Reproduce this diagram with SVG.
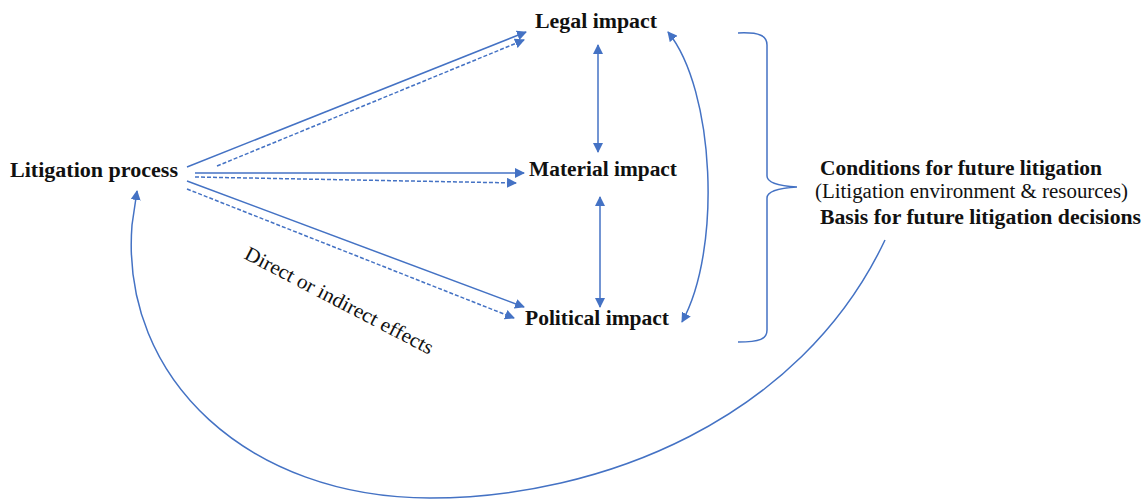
<svg xmlns="http://www.w3.org/2000/svg" width="1148" height="500" viewBox="0 0 1148 500">
<style>
.lbl{font-family:"Liberation Serif","Times New Roman",serif;font-size:20.5px;fill:#111;}
.b{font-weight:bold;}
.ln{stroke:#4472C4;stroke-width:1.5;fill:none;}
.d{stroke-dasharray:4 2;}
</style>
<defs>
<marker id="ah" viewBox="0 0 10 10" refX="9" refY="5" markerWidth="10" markerHeight="10" markerUnits="userSpaceOnUse" orient="auto-start-reverse">
<path d="M0,0 L10,5 L0,10 z" fill="#4472C4"/>
</marker>
</defs>
<rect width="1148" height="500" fill="#fff"/>
<g id="connectors">
<line class="ln" x1="187" y1="167" x2="526" y2="32" marker-end="url(#ah)"/>
<line class="ln d" x1="217" y1="166" x2="524" y2="40" marker-end="url(#ah)"/>
<line class="ln" x1="195" y1="173" x2="524" y2="173" marker-end="url(#ah)"/>
<line class="ln d" x1="195" y1="177" x2="516" y2="183" marker-end="url(#ah)"/>
<line class="ln" x1="187" y1="181" x2="524" y2="307" marker-end="url(#ah)"/>
<line class="ln d" x1="187" y1="189" x2="514" y2="318" marker-end="url(#ah)"/>
<line class="ln" x1="598" y1="45" x2="598" y2="152" marker-start="url(#ah)" marker-end="url(#ah)"/>
<line class="ln" x1="600" y1="197" x2="600" y2="307" marker-start="url(#ah)" marker-end="url(#ah)"/>
<path class="ln" d="M668,32 C715,90 722,250 682,322" marker-start="url(#ah)" marker-end="url(#ah)"/>
<path class="ln" d="M738,33 C760,32 767,36 767,45 L767,176 C767,183 780,186 797,187 C780,188 767,191 767,198 L767,330 C767,339 760,342 738,342"/>
<path class="ln" d="M885,240 C800,420 600,498 430,498 C250,498 120,380 132,225 L137,191" marker-end="url(#ah)"/>
</g>
<g id="litigation-process"><text class="lbl b" x="10" y="177" textLength="168" lengthAdjust="spacingAndGlyphs">Litigation process</text></g>
<g id="legal-impact"><text class="lbl b" x="535" y="28" textLength="122" lengthAdjust="spacingAndGlyphs">Legal impact</text></g>
<g id="material-impact"><text class="lbl b" x="529" y="176" textLength="148" lengthAdjust="spacingAndGlyphs">Material impact</text></g>
<g id="political-impact"><text class="lbl b" x="525" y="325" textLength="144" lengthAdjust="spacingAndGlyphs">Political impact</text></g>
<g id="conditions">
<text class="lbl b" x="820" y="175" textLength="282" lengthAdjust="spacingAndGlyphs">Conditions for future litigation</text>
<text class="lbl" x="815" y="198" textLength="313" lengthAdjust="spacingAndGlyphs">(Litigation environment &amp; resources)</text>
<text class="lbl b" x="820" y="224" textLength="321" lengthAdjust="spacingAndGlyphs">Basis for future litigation decisions</text>
</g>
<g id="effects-label"><text class="lbl" transform="translate(243,258) rotate(27.5)" textLength="210" lengthAdjust="spacingAndGlyphs">Direct or indirect effects</text></g>
</svg>
